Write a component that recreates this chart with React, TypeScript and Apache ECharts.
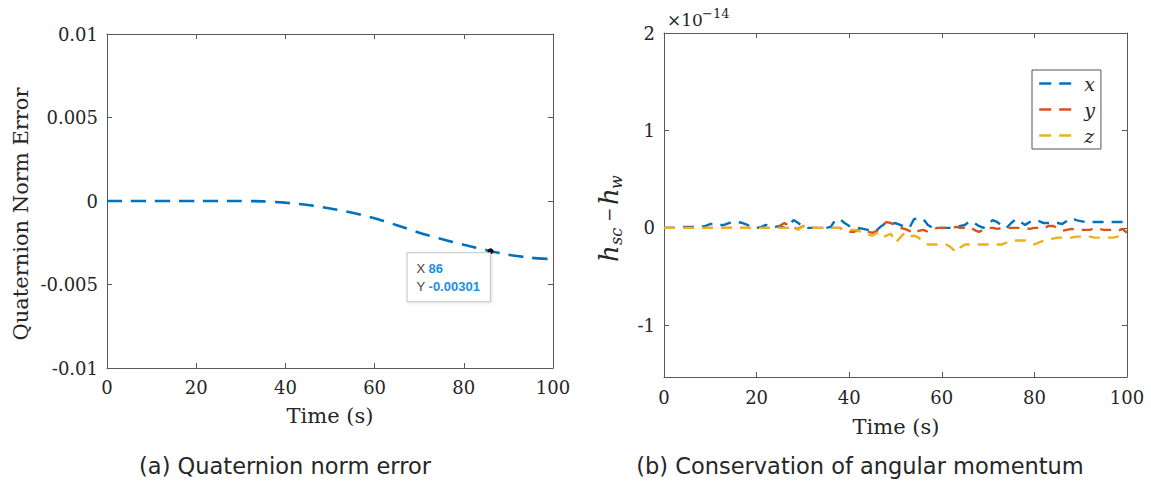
import React, { useEffect, useRef } from "react";
import * as echarts from "echarts";

// ---------- (a) Quaternion norm error ----------
const timeA = [0, 5, 10, 15, 20, 25, 30, 35, 40, 45, 50, 55, 60, 65, 70, 75, 80, 85, 86, 90, 95, 100];
const normErr = [0, 0, 0, 0, 0, 0, 0, -0.00002, -0.0001, -0.00024, -0.00045, -0.0007, -0.00103, -0.00145, -0.0019, -0.00228, -0.00262, -0.00294, -0.00301, -0.00322, -0.0034, -0.00348];
const tipX = 86;
const tipY = -0.00301;

// ---------- (b) Conservation of angular momentum (units of 1e-14), sampled every 1 s ----------
const sampleStep = 1;
const hX = [
  0, 0, 0, 0, 0.01, 0.01, 0.01, 0.01, 0.01, 0.02,
  0.04, 0.04, 0.03, 0.03, 0.05, 0.06, 0.06, 0.05, 0.03, 0.01,
  0, 0.01, 0.03, 0.02, 0.01, 0.02, 0, 0.03, 0.08, 0.05,
  0.01, 0, 0, 0, 0, 0, 0.01, 0.08, 0.09, 0.05,
  0.02, 0.01, 0, -0.01, -0.02, -0.04, -0.02, 0.02, 0.05, 0.04,
  0.05, 0.03, 0.01, 0, 0.09, 0.1, 0.09, 0.03, 0, 0,
  0, 0, 0, 0, 0.02, 0.03, 0.07, 0.05, 0.02, 0,
  0.04, 0.08, 0.06, 0.02, 0, 0.05, 0.09, 0.06, 0.03, 0.06,
  0.08, 0.07, 0.05, 0.05, 0.05, 0.05, 0.04, 0.07, 0.1, 0.08,
  0.07, 0.06, 0.06, 0.06, 0.06, 0.06, 0.06, 0.06, 0.06, 0.06,
  0.06,
];
const hY = [
  0, 0, 0, 0, 0, 0, 0, 0, 0, 0,
  0, 0, 0, 0, 0, 0, 0, 0, 0, 0,
  0, 0, 0, 0, 0, 0.02, 0.05, 0.02, 0, -0.01,
  0.02, 0, 0, 0, 0, 0, 0, 0, 0, -0.02,
  -0.04, -0.04, -0.02, -0.03, -0.04, -0.05, -0.03, 0.02, 0.06, 0.05,
  0.02, 0, -0.01, -0.03, -0.06, -0.03, -0.02, -0.04, -0.02, 0,
  0, 0, 0, 0.01, 0, 0, 0.01, -0.02, -0.04, -0.02,
  0, 0, -0.01, 0, 0, 0, 0, 0, 0, -0.01,
  0, 0, -0.01, 0.02, 0.02, 0, -0.03, -0.02, -0.01, -0.02,
  -0.02, -0.02, -0.02, 0, -0.01, -0.02, -0.02, -0.02, -0.03, -0.01,
  -0.05,
];
const hZ = [
  0, 0, 0, 0, 0, 0, 0, 0, 0, 0,
  0, 0, 0, 0, 0, 0, 0, 0, 0, 0,
  0, 0, 0, 0, 0, 0, 0, 0, 0.02, -0.02,
  0.02, 0, 0, 0, 0, 0, 0, 0, 0, -0.01,
  -0.02, -0.02, -0.03, -0.05, -0.07, -0.08, -0.05, -0.1, -0.08, -0.06,
  -0.15, -0.1, -0.05, -0.09, -0.08, -0.1, -0.15, -0.17, -0.17, -0.17,
  -0.17, -0.17, -0.2, -0.25, -0.2, -0.17, -0.17, -0.17, -0.17, -0.17,
  -0.17, -0.17, -0.17, -0.17, -0.15, -0.13, -0.13, -0.13, -0.13, -0.15,
  -0.17, -0.15, -0.13, -0.12, -0.11, -0.1, -0.1, -0.1, -0.1, -0.09,
  -0.09, -0.09, -0.09, -0.1, -0.1, -0.1, -0.1, -0.1, -0.09, -0.09,
  -0.09,
];
const seriesNames = ["x", "y", "z"];
const seriesColors = ["#0072BD", "#D95319", "#EDB120"];

const captionA = "(a) Quaternion norm error";
const captionB = "(b) Conservation of angular momentum";

const axisColor = "#5a5a5a";
const textColor = "#262626";
const serif = "DejaVu Serif";

function xAx(grid: number, pos: "bottom" | "top", margin: number) {
  return {
    type: "value",
    gridIndex: grid,
    position: pos,
    min: 0,
    max: 100,
    interval: 20,
    axisLine: { show: true, onZero: false, lineStyle: { color: axisColor, width: 1 } },
    axisTick: { show: true, inside: true, length: 5, lineStyle: { color: axisColor } },
    axisLabel: { show: pos === "bottom", color: textColor, fontFamily: serif, fontSize: 18, margin },
    splitLine: { show: false },
  };
}

function yAx(grid: number, pos: "left" | "right", extra: any) {
  return {
    type: "value",
    gridIndex: grid,
    position: pos,
    axisLine: { show: true, onZero: false, lineStyle: { color: axisColor, width: 1 } },
    axisTick: { show: true, inside: true, length: 5, lineStyle: { color: axisColor } },
    axisLabel: { show: pos === "left", color: textColor, fontFamily: serif, fontSize: 18, margin: 9, showMinLabel: extra.showMinLabel },
    splitLine: { show: false },
    ...extra.scale,
  };
}

export default function App() {
  const ref = useRef<HTMLDivElement>(null);
  useEffect(() => {
    if (!ref.current) return;
    const chart = echarts.init(ref.current, undefined, { renderer: "svg" });
    const toPairs = (arr: number[]) => arr.map((v, i) => [i * sampleStep, v]);
    const scaleA = { min: -0.01, max: 0.01, interval: 0.005 };
    const scaleB = { min: -1.53, max: 2, minInterval: 1, maxInterval: 1 };
    const txt = (text: string, x: number, y: number, fontSize: number, family: string, extra: any = {}) => ({
      type: "text",
      x,
      y,
      rotation: extra.rotation || 0,
      style: {
        text,
        fill: textColor,
        fontSize,
        fontFamily: family,
        fontStyle: extra.italic ? "italic" : "normal",
        align: extra.align || "center",
        textAlign: extra.align || "center",
        verticalAlign: "middle",
        textVerticalAlign: "middle",
      },
    });
    const option: any = {
      animation: false,
      backgroundColor: "#ffffff",
      grid: [
        { left: 107, top: 34, width: 446, height: 334 },
        { left: 664, top: 33, width: 463, height: 344 },
      ],
      xAxis: [xAx(0, "bottom", 10), xAx(0, "top", 10), xAx(1, "bottom", 11), xAx(1, "top", 11)],
      yAxis: [
        yAx(0, "left", { scale: scaleA, showMinLabel: true }),
        yAx(0, "right", { scale: scaleA, showMinLabel: true }),
        yAx(1, "left", { scale: scaleB, showMinLabel: false }),
        yAx(1, "right", { scale: scaleB, showMinLabel: false }),
      ],
      legend: {
        data: seriesNames,
        orient: "vertical",
        left: 1032,
        top: 70,
        padding: [4, 6, 4, 6],
        itemWidth: 32,
        itemHeight: 14,
        itemGap: 7,
        borderColor: "#555",
        borderWidth: 1,
        backgroundColor: "#fff",
        selectedMode: false,
        itemStyle: { opacity: 0 },
        lineStyle: { width: 2.4, type: [12, 8] },
        textStyle: { fontFamily: serif, fontStyle: "italic", fontSize: 19, color: textColor, padding: [0, 0, 0, 8] },
      },
      series: [
        {
          type: "line",
          xAxisIndex: 0,
          yAxisIndex: 0,
          data: timeA.map((t, i) => [t, normErr[i]]),
          smooth: 0.2,
          showSymbol: false,
          symbol: "none",
          lineStyle: { color: "#0072BD", width: 2.6, type: [15, 9] },
          markPoint: {
            symbol: "circle",
            symbolSize: 6,
            itemStyle: { color: "#111" },
            data: [{ coord: [tipX, tipY] }],
            label: {
              show: true,
              position: [-80, 5],
              formatter: `{k|X} {v|${tipX}}\n{k|Y} {v|${tipY}}`,
              backgroundColor: "#ffffff",
              borderColor: "#c4c4c4",
              borderWidth: 1,
              padding: [6, 10, 6, 9],
              lineHeight: 18,
              shadowBlur: 3,
              shadowColor: "rgba(0,0,0,0.12)",
              shadowOffsetX: 1,
              shadowOffsetY: 1,
              rich: {
                k: { color: "#444", fontSize: 13, fontFamily: "Liberation Sans", lineHeight: 18 },
                v: { color: "#1a8fe3", fontSize: 13, fontWeight: "bold", fontFamily: "Liberation Sans", lineHeight: 18 },
              },
            },
          },
        },
        ...[hX, hY, hZ].map((arr, k) => ({
          name: seriesNames[k],
          type: "line",
          xAxisIndex: 2,
          yAxisIndex: 2,
          data: toPairs(arr),
          showSymbol: false,
          symbol: "none",
          color: seriesColors[k],
          lineStyle: { color: seriesColors[k], width: 2.4, type: [11, 8] },
        })),
      ],
      graphic: [
        txt("Quaternion Norm Error", 21, 214, 21, serif, { rotation: Math.PI / 2 }),
        txt("Time (s)", 330, 416, 21, serif),
        txt("Time (s)", 896, 427, 21, serif),
        txt("×10", 667, 20, 17, serif, { align: "left" }),
        txt("−14", 702, 13, 13, serif, { align: "left" }),
        {
          type: "group",
          x: 609,
          y: 262,
          rotation: Math.PI / 2,
          children: [
            txt("h", 0, 0, 26, serif, { italic: true, align: "left" }),
            txt("sc", 17, 7, 16, serif, { italic: true, align: "left" }),
            txt("−", 40, 0, 17, serif, { align: "left" }),
            txt("h", 57, 0, 26, serif, { italic: true, align: "left" }),
            txt("w", 73, 7, 16, serif, { italic: true, align: "left" }),
          ],
        },
        txt(captionA, 285, 466, 22.5, "DejaVu Sans"),
        txt(captionB, 860, 466, 22.5, "DejaVu Sans"),
      ],
    };
    chart.setOption(option);
    return () => chart.dispose();
  }, []);
  return (
    <div
      ref={ref}
      style={{ position: "fixed", left: 0, top: 0, width: 1151, height: 487, background: "#fff" }}
    />
  );
}
